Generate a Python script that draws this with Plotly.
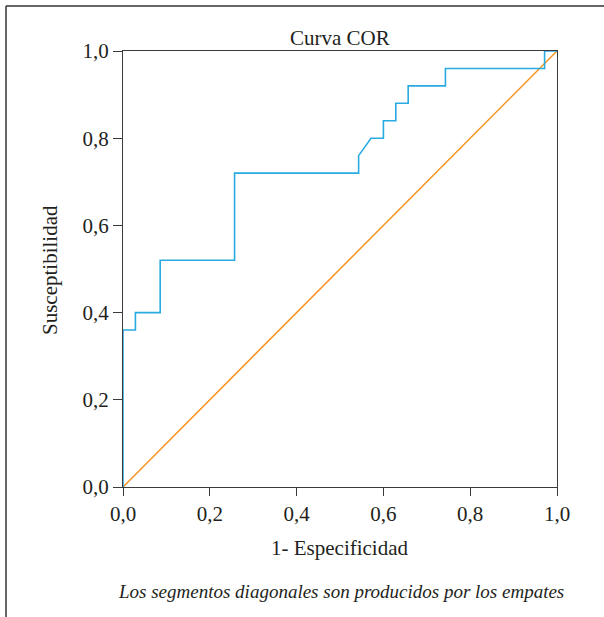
import plotly.graph_objects as go

# ROC curve data (1 - specificity, sensitivity)
fpr = [0.0, 0.0, 0.0286, 0.0286, 0.0857, 0.0857, 0.2571, 0.2571, 0.5429, 0.5429,
       0.5714, 0.6, 0.6, 0.6286, 0.6286, 0.6571, 0.6571, 0.7429, 0.7429, 0.9714, 0.9714, 1.0]
tpr = [0.0, 0.36, 0.36, 0.40, 0.40, 0.52, 0.52, 0.72, 0.72, 0.76,
       0.80, 0.80, 0.84, 0.84, 0.88, 0.88, 0.92, 0.92, 0.96, 0.96, 1.0, 1.0]
ref_x = [0.0, 1.0]
ref_y = [0.0, 1.0]
tick_vals = [0.0, 0.2, 0.4, 0.6, 0.8, 1.0]
tick_text = ["0,0", "0,2", "0,4", "0,6", "0,8", "1,0"]

FONT = "Liberation Serif"
W, H = 604, 617
L, R, T, B = 123, 557, 51, 487

def px(x):
    return (x - L) / (R - L)

def py(y):
    return (B - y) / (B - T)

fig = go.Figure()
fig.add_trace(go.Scatter(x=ref_x, y=ref_y, mode="lines",
                         line=dict(color="#f7931e", width=1.5), hoverinfo="skip"))
fig.add_trace(go.Scatter(x=fpr, y=tpr, mode="lines",
                         line=dict(color="#29abe2", width=1.6), hoverinfo="skip"))

axis_common = dict(range=[0, 1], tickvals=tick_vals, ticktext=tick_text,
                   showgrid=False, zeroline=False, showline=True, mirror=True,
                   linecolor="#3a3a3a", linewidth=1.3, ticks="outside",
                   ticklen=8, tickcolor="#3a3a3a", tickwidth=1.2,
                   tickfont=dict(family=FONT, size=21, color="#231f20"))

fig.update_layout(
    width=W, height=H,
    margin=dict(l=L, r=W - R, t=T, b=H - B),
    paper_bgcolor="white", plot_bgcolor="white",
    showlegend=False,
    xaxis=axis_common,
    yaxis=dict(axis_common, ticklen=9),
    shapes=[
        dict(type="line", xref="paper", yref="paper", x0=px(6), x1=px(604), y0=py(6), y1=py(6),
             line=dict(color="#333333", width=1.5)),
        dict(type="line", xref="paper", yref="paper", x0=px(6), x1=px(6), y0=py(6), y1=py(617),
             line=dict(color="#333333", width=1.5)),
    ],
    annotations=[
        dict(text="Curva COR", xref="paper", yref="paper", x=0.5, y=py(38),
             showarrow=False, xanchor="center", yanchor="middle",
             font=dict(family=FONT, size=21, color="#231f20")),
        dict(text="1- Especificidad", xref="paper", yref="paper", x=0.5, y=py(548),
             showarrow=False, xanchor="center", yanchor="middle",
             font=dict(family=FONT, size=21, color="#231f20")),
        dict(text="Susceptibilidad", xref="paper", yref="paper", x=px(50), y=py(270),
             showarrow=False, xanchor="center", yanchor="middle", textangle=-90,
             font=dict(family=FONT, size=21, color="#231f20")),
        dict(text="<i>Los segmentos diagonales son producidos por los empates</i>",
             xref="paper", yref="paper", x=px(341), y=py(591),
             showarrow=False, xanchor="center", yanchor="middle",
             font=dict(family=FONT, size=19, color="#231f20")),
    ],
)

fig.write_html("out.html")
